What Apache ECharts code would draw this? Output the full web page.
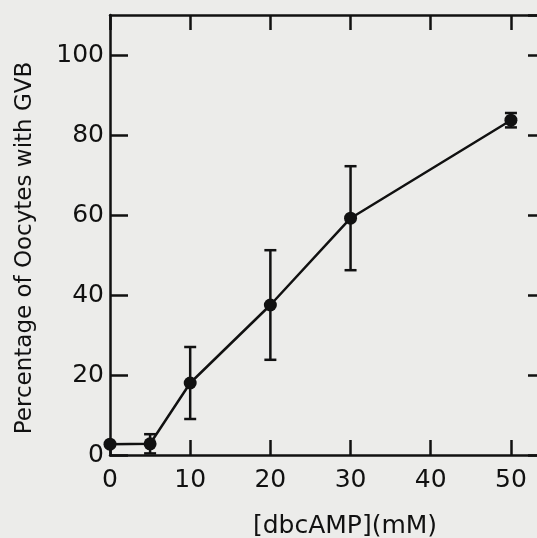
<!DOCTYPE html>
<html>
<head>
<meta charset="utf-8">
<script src="https://cdn.jsdelivr.net/npm/echarts@6/dist/echarts.min.js"></script>
<style>html,body{margin:0;padding:0;background:#ececea;}#c{width:537px;height:538px;}</style>
</head>
<body>
<div id="c"></div>
<script>
const dose = [0, 5, 10, 20, 30, 50];
const pct = [2.7, 2.8, 18, 37.5, 59.2, 83.7];
const err = [0, 2.4, 9, 13.7, 13, 1.8];
const xTicks = [0, 10, 20, 30, 40, 50];
const yTicks = [0, 20, 40, 60, 80, 100];
const xTitle = '[dbcAMP](mM)';
const yTitle = 'Percentage of Oocytes with GVB';

const ink = '#111';
const font = 'DejaVu Sans';
const chart = echarts.init(document.getElementById('c'), null, {renderer: 'canvas'});
const lineData = dose.map((d, i) => [d, pct[i]]);
const errData = dose.map((d, i) => [d, pct[i] - err[i], pct[i] + err[i]]);

const axisCommon = {
  type: 'value',
  axisLine: {show: true, onZero: false, lineStyle: {color: ink, width: 2.5}},
  splitLine: {show: false},
};

chart.setOption({
  backgroundColor: '#ececea',
  animation: false,
  grid: {left: 110, width: 433, top: 15, height: 440, containLabel: false, outerBoundsMode: 'none'},
  graphic: [
    {type: 'text', x: 25, y: 248, rotation: Math.PI / 2,
      style: {text: yTitle, font: '23px "DejaVu Sans"', fill: ink, align: 'center', verticalAlign: 'middle'}},
    {type: 'text', x: 345, y: 526,
      style: {text: xTitle, font: '25px "DejaVu Sans"', fill: ink, align: 'center', verticalAlign: 'middle'}}
  ],
  xAxis: [
    Object.assign({}, axisCommon, {
      position: 'bottom', min: 0, max: 54, interval: 10,
      axisTick: {show: true, inside: true, length: 15, lineStyle: {color: ink, width: 2.5}},
      axisLabel: {show: true, margin: 13, fontSize: 25, color: ink, fontFamily: font, showMaxLabel: false,
        formatter: v => xTicks.includes(v) ? String(v) : ''}
    }),
    Object.assign({}, axisCommon, {
      position: 'top', min: 0, max: 54, interval: 10,
      axisTick: {show: true, inside: true, length: 15, lineStyle: {color: ink, width: 2.5}},
      axisLabel: {show: false}
    })
  ],
  yAxis: [
    Object.assign({}, axisCommon, {
      position: 'left', min: 0, max: 110, interval: 20,
      axisTick: {show: true, inside: true, length: 18, lineStyle: {color: ink, width: 2.5}},
      axisLabel: {show: true, margin: 6, fontSize: 25, color: ink, fontFamily: font, showMaxLabel: false,
        formatter: v => yTicks.includes(v) ? String(v) : ''}
    }),
    Object.assign({}, axisCommon, {
      position: 'right', min: 0, max: 110, interval: 20,
      axisTick: {show: true, inside: true, length: 15, lineStyle: {color: ink, width: 2.5}},
      axisLabel: {show: false}
    })
  ],
  series: [
    {
      type: 'custom',
      xAxisIndex: 0, yAxisIndex: 0,
      data: errData,
      z: 3,
      renderItem: function (params, api) {
        const x = api.value(0);
        const lo = api.coord([x, api.value(1)]);
        const hi = api.coord([x, api.value(2)]);
        const w = 6;
        const st = {stroke: ink, lineWidth: 2.5};
        return {
          type: 'group',
          children: [
            {type: 'line', shape: {x1: lo[0], y1: lo[1], x2: hi[0], y2: hi[1]}, style: st},
            {type: 'line', shape: {x1: lo[0] - w, y1: lo[1], x2: lo[0] + w, y2: lo[1]}, style: st},
            {type: 'line', shape: {x1: hi[0] - w, y1: hi[1], x2: hi[0] + w, y2: hi[1]}, style: st}
          ]
        };
      }
    },
    {
      type: 'line',
      xAxisIndex: 0, yAxisIndex: 0,
      data: lineData,
      z: 4,
      symbol: 'circle',
      symbolSize: 13,
      showAllSymbol: true,
      lineStyle: {color: ink, width: 2.5},
      itemStyle: {color: ink, borderWidth: 0}
    }
  ]
});
</script>
</body>
</html>
